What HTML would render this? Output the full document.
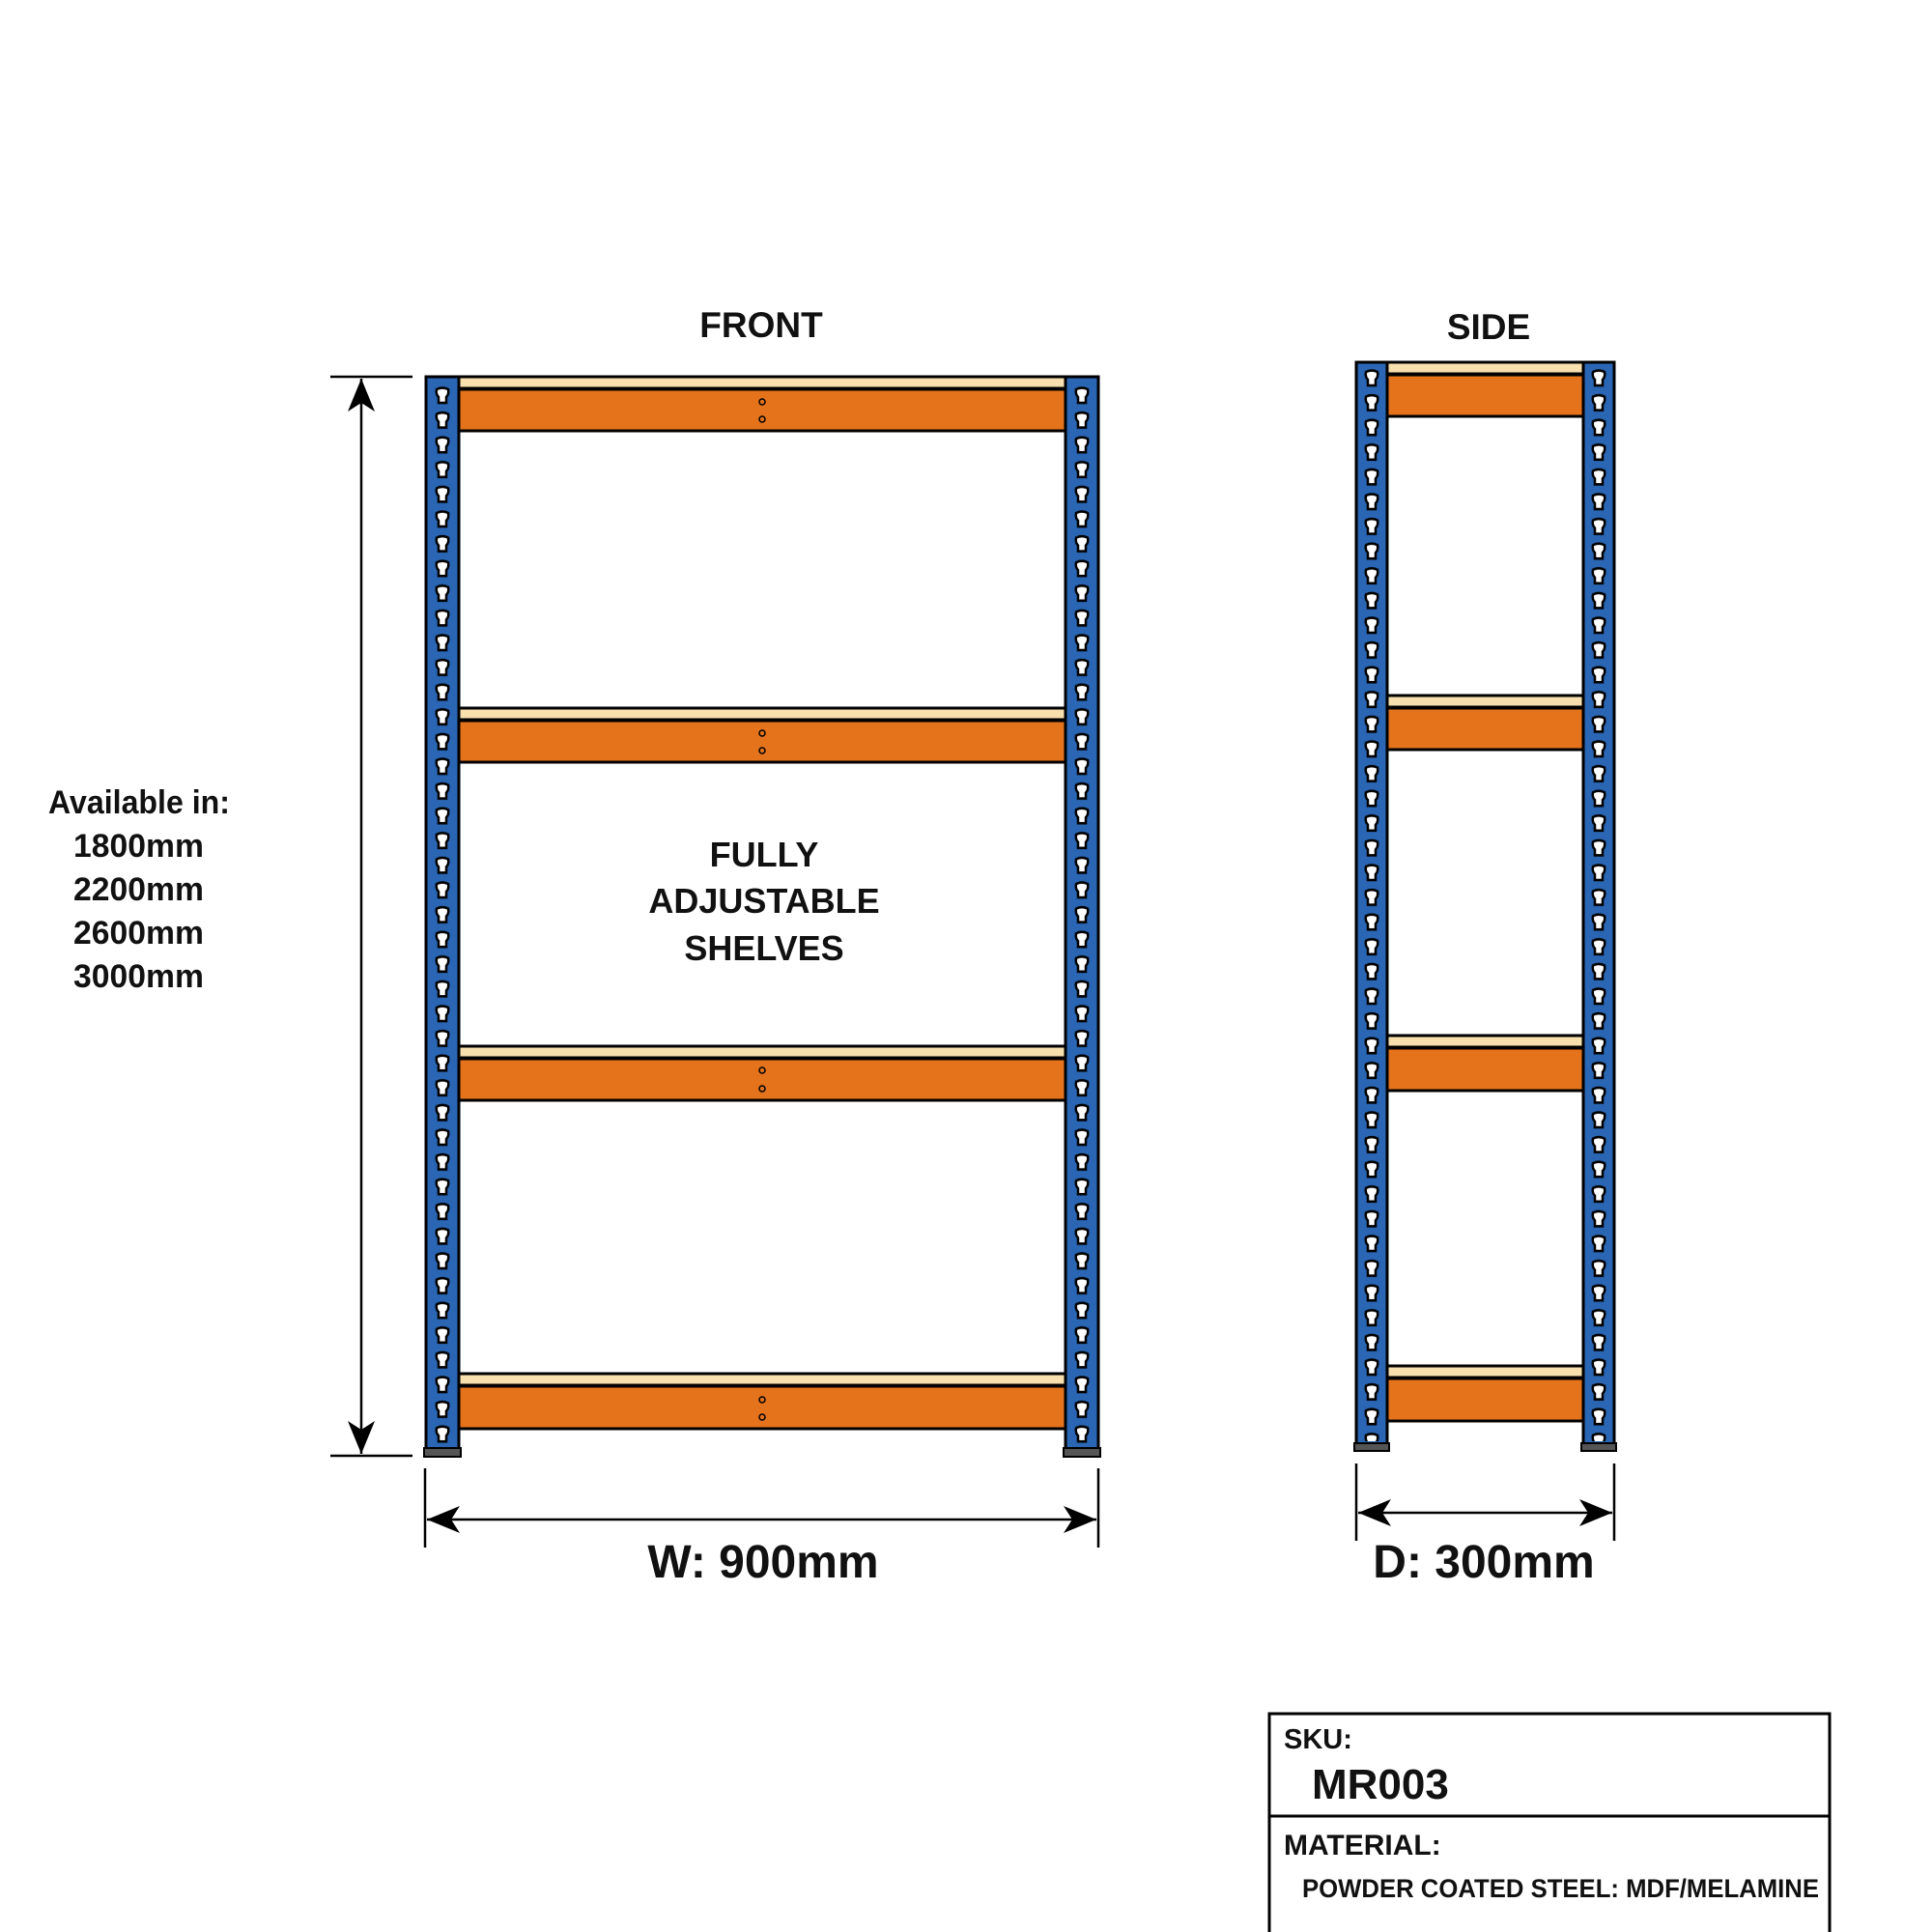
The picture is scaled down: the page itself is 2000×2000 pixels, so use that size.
<!DOCTYPE html>
<html><head><meta charset="utf-8"><style>html,body{margin:0;padding:0;background:#fff}svg{display:block}text{font-family:"Liberation Sans",sans-serif;font-weight:bold;fill:#111}</style></head>
<body>
<svg width="2000" height="2000" viewBox="0 0 2000 2000" xmlns="http://www.w3.org/2000/svg">
<defs>
<pattern id="holes" x="0" y="398" width="34" height="25.6" patternUnits="userSpaceOnUse">
<path d="M11 5 Q17 2 23 5 Q24 10 21 13 L21 19 L13 19 L13 13 Q10 10 11 5Z" fill="#fff" stroke="#000" stroke-width="2.5"/>
</pattern>
<pattern id="holesS" x="0" y="380" width="32" height="25.6" patternUnits="userSpaceOnUse">
<path d="M10 5 Q16 2 22 5 Q23 10 20 13 L20 19 L12 19 L12 13 Q9 10 10 5Z" fill="#fff" stroke="#000" stroke-width="2.5"/>
</pattern>
<marker id="ah" viewBox="0 0 34 28" refX="34" refY="14" markerWidth="34" markerHeight="28" markerUnits="userSpaceOnUse" orient="auto-start-reverse"><path d="M0 0 L34 14 L0 28 L9 14Z" fill="#000"/></marker>
</defs>

<text x="788" y="349" font-size="37" text-anchor="middle">FRONT</text>
<g stroke="#000" stroke-width="3">
<rect x="474" y="390" width="630" height="12" fill="#f7dfae"/>
<rect x="474" y="403" width="630" height="43" fill="#e4731c"/>
<rect x="474" y="733" width="630" height="12" fill="#f7dfae"/>
<rect x="474" y="746" width="630" height="43" fill="#e4731c"/>
<rect x="474" y="1083" width="630" height="12" fill="#f7dfae"/>
<rect x="474" y="1096" width="630" height="43" fill="#e4731c"/>
<rect x="474" y="1422" width="630" height="12" fill="#f7dfae"/>
<rect x="474" y="1435" width="630" height="44" fill="#e4731c"/>
</g>
<g fill="none" stroke="#000" stroke-width="1.5">
<circle cx="789" cy="416" r="3"/><circle cx="789" cy="434" r="3"/>
<circle cx="789" cy="759" r="3"/><circle cx="789" cy="777" r="3"/>
<circle cx="789" cy="1108" r="3"/><circle cx="789" cy="1127" r="3"/>
<circle cx="789" cy="1449" r="3"/><circle cx="789" cy="1467" r="3"/>
</g>
<g stroke="#000" stroke-width="3">
<rect x="441" y="390" width="34" height="1110" fill="#2a66b4"/>
<rect x="1103" y="390" width="34" height="1110" fill="#2a66b4"/>
</g>
<g transform="translate(441,0)"><rect x="0" y="398" width="34" height="1098" fill="url(#holes)"/></g>
<g transform="translate(1103,0)"><rect x="0" y="398" width="34" height="1098" fill="url(#holes)"/></g>
<rect x="439" y="1499" width="38" height="9" fill="#555" stroke="#000" stroke-width="2"/>
<rect x="1101" y="1499" width="38" height="9" fill="#555" stroke="#000" stroke-width="2"/>

<text x="791" y="897" font-size="36" text-anchor="middle">FULLY</text>
<text x="791" y="945" font-size="36" text-anchor="middle">ADJUSTABLE</text>
<text x="791" y="994" font-size="36" text-anchor="middle">SHELVES</text>

<g stroke="#000" stroke-width="2.5" fill="none">
<line x1="342" y1="390" x2="427" y2="390"/>
<line x1="342" y1="1507" x2="427" y2="1507"/>
<line x1="374" y1="392" x2="374" y2="1505" marker-start="url(#ah)" marker-end="url(#ah)"/>
<line x1="440" y1="1520" x2="440" y2="1602"/>
<line x1="1137" y1="1520" x2="1137" y2="1602"/>
<line x1="442" y1="1573" x2="1135" y2="1573" marker-start="url(#ah)" marker-end="url(#ah)"/>
<line x1="1404" y1="1515" x2="1404" y2="1595"/>
<line x1="1671" y1="1515" x2="1671" y2="1595"/>
<line x1="1406" y1="1566" x2="1669" y2="1566" marker-start="url(#ah)" marker-end="url(#ah)"/>
</g>
<text x="790" y="1633" font-size="48" text-anchor="middle">W: 900mm</text>
<text x="1536" y="1633" font-size="48" text-anchor="middle">D: 300mm</text>

<text x="50" y="842" font-size="34" textLength="188" lengthAdjust="spacingAndGlyphs">Available in:</text>
<text x="76" y="887" font-size="34" textLength="135" lengthAdjust="spacingAndGlyphs">1800mm</text>
<text x="76" y="932" font-size="34" textLength="135" lengthAdjust="spacingAndGlyphs">2200mm</text>
<text x="76" y="977" font-size="34" textLength="135" lengthAdjust="spacingAndGlyphs">2600mm</text>
<text x="76" y="1022" font-size="34" textLength="135" lengthAdjust="spacingAndGlyphs">3000mm</text>

<text x="1541" y="351" font-size="37" text-anchor="middle">SIDE</text>
<g stroke="#000" stroke-width="3">
<rect x="1434" y="375" width="208" height="12" fill="#f7dfae"/>
<rect x="1434" y="388" width="208" height="43" fill="#e4731c"/>
<rect x="1434" y="720" width="208" height="12" fill="#f7dfae"/>
<rect x="1434" y="733" width="208" height="43" fill="#e4731c"/>
<rect x="1434" y="1072" width="208" height="12" fill="#f7dfae"/>
<rect x="1434" y="1085" width="208" height="44" fill="#e4731c"/>
<rect x="1434" y="1414" width="208" height="12" fill="#f7dfae"/>
<rect x="1434" y="1427" width="208" height="44" fill="#e4731c"/>
<rect x="1404" y="375" width="32" height="1120" fill="#2a66b4"/>
<rect x="1639" y="375" width="32" height="1120" fill="#2a66b4"/>
</g>
<g transform="translate(1404,0)"><rect x="0" y="380" width="32" height="1112" fill="url(#holesS)"/></g>
<g transform="translate(1639,0)"><rect x="0" y="380" width="32" height="1112" fill="url(#holesS)"/></g>
<rect x="1402" y="1494" width="36" height="8" fill="#555" stroke="#000" stroke-width="2"/>
<rect x="1637" y="1494" width="36" height="8" fill="#555" stroke="#000" stroke-width="2"/>

<rect x="1314" y="1774" width="580" height="230" fill="none" stroke="#000" stroke-width="3"/>
<line x1="1314" y1="1880" x2="1894" y2="1880" stroke="#000" stroke-width="3"/>
<text x="1329" y="1810" font-size="29">SKU:</text>
<text x="1358" y="1862" font-size="44">MR003</text>
<text x="1329" y="1920" font-size="30">MATERIAL:</text>
<text x="1348" y="1964" font-size="27" textLength="535" lengthAdjust="spacingAndGlyphs">POWDER COATED STEEL: MDF/MELAMINE</text>
</svg>
</body></html>
